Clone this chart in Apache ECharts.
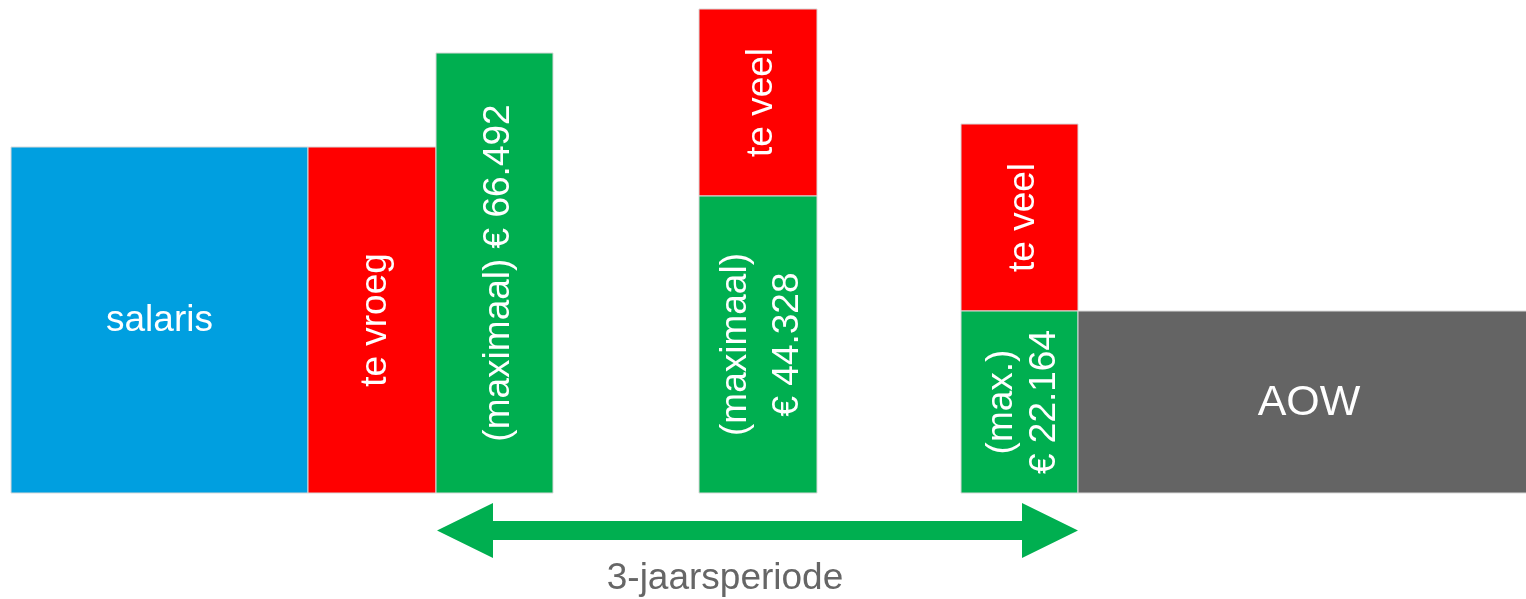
<!DOCTYPE html>
<html>
<head>
<meta charset="utf-8">
<script src="https://cdn.jsdelivr.net/npm/echarts@6/dist/echarts.min.js"></script>
<style>
html,body{margin:0;padding:0;background:#fff;}
#chart{width:1526px;height:599px;}
</style>
</head>
<body>
<div id="chart"></div>
<script>
// Blocks of the diagram (horizontal extent = time, vertical extent = amount)
const segLabels = ['salaris', 'te vroeg', '(maximaal) € 66.492', 'te veel', '(maximaal)\n€ 44.328', 'te veel', '(max.)\n€ 22.164', 'AOW'];
const segKinds  = ['salaris', 'excess', 'max', 'excess', 'max', 'excess', 'max', 'aow'];
const segStart  = [11, 308, 436, 699, 699, 961, 961, 1078];
const segEnd    = [308, 436, 553, 817, 817, 1078, 1078, 1540];
const segBottom = [0, 0, 0, 297, 0, 182, 0, 0];
const segTop    = [346, 346, 440, 484, 297, 369, 182, 182];

// Period arrow
const arrowFrom = 437;
const arrowTo = 1078;
const arrowLevel = -37.5;
const arrowLabel = '3-jaarsperiode';

const FONT = '"Liberation Sans", Arial, Helvetica, sans-serif';
const kindColor = { salaris: '#009FE0', excess: '#FF0000', max: '#00AF50', aow: '#646464' };
// styling per block: rotated?, font size, line height
const segStyle = [
  { rot: false, size: 37, lh: 40 },
  { rot: true,  size: 37, lh: 40 },
  { rot: true,  size: 37, lh: 40 },
  { rot: true,  size: 37, lh: 40 },
  { rot: true,  size: 37, lh: 52 },
  { rot: true,  size: 37, lh: 40 },
  { rot: true,  size: 37, lh: 43 },
  { rot: false, size: 43, lh: 46 }
];

const segData = segLabels.map((l, i) => [segStart[i], segEnd[i], segBottom[i], segTop[i], i]);

const chart = echarts.init(document.getElementById('chart'), null, { renderer: 'canvas' });

chart.setOption({
  animation: false,
  backgroundColor: '#ffffff',
  grid: { left: 0, right: 0, top: 0, bottom: 0 },
  xAxis: { type: 'value', min: 0, max: 1526, show: false },
  yAxis: { type: 'value', min: -106, max: 493, show: false },
  series: [
    {
      type: 'custom',
      data: segData,
      renderItem: function (params, api) {
        const i = api.value(4);
        const tl = api.coord([api.value(0), api.value(3)]);
        const br = api.coord([api.value(1), api.value(2)]);
        const st = segStyle[i];
        const cx = (tl[0] + br[0]) / 2 + (st.rot ? 4 : 0);
        const cy = (tl[1] + br[1]) / 2 + (st.rot ? 0 : 1);
        return {
          type: 'group',
          children: [
            {
              type: 'rect',
              shape: { x: tl[0], y: tl[1], width: br[0] - tl[0], height: br[1] - tl[1] },
              style: { fill: kindColor[segKinds[i]], stroke: '#d9d9d9', lineWidth: 1 }
            },
            {
              type: 'text',
              x: cx,
              y: cy,
              rotation: st.rot ? Math.PI / 2 : 0,
              style: {
                text: segLabels[i],
                fill: '#ffffff',
                font: st.size + 'px ' + FONT,
                align: 'center',
                verticalAlign: 'middle',
                lineHeight: st.lh
              }
            }
          ]
        };
      }
    },
    {
      type: 'custom',
      data: [[arrowFrom, arrowTo, arrowLevel]],
      renderItem: function (params, api) {
        const a = api.coord([api.value(0), api.value(2)]);
        const b = api.coord([api.value(1), api.value(2)]);
        const y = a[1];
        const hl = 56, hh = 27.5, sh = 9.5;
        const x0 = a[0], x1 = b[0];
        return {
          type: 'polygon',
          shape: {
            points: [
              [x0, y], [x0 + hl, y - hh], [x0 + hl, y - sh], [x1 - hl, y - sh], [x1 - hl, y - hh],
              [x1, y], [x1 - hl, y + hh], [x1 - hl, y + sh], [x0 + hl, y + sh], [x0 + hl, y + hh]
            ]
          },
          style: { fill: '#00AF50' }
        };
      }
    }
  ],
  graphic: [
    {
      type: 'text',
      x: 725,
      y: 579,
      style: {
        text: arrowLabel,
        fill: '#666666',
        font: '37px ' + FONT,
        align: 'center',
        verticalAlign: 'middle'
      }
    }
  ]
});
</script>
</body>
</html>
